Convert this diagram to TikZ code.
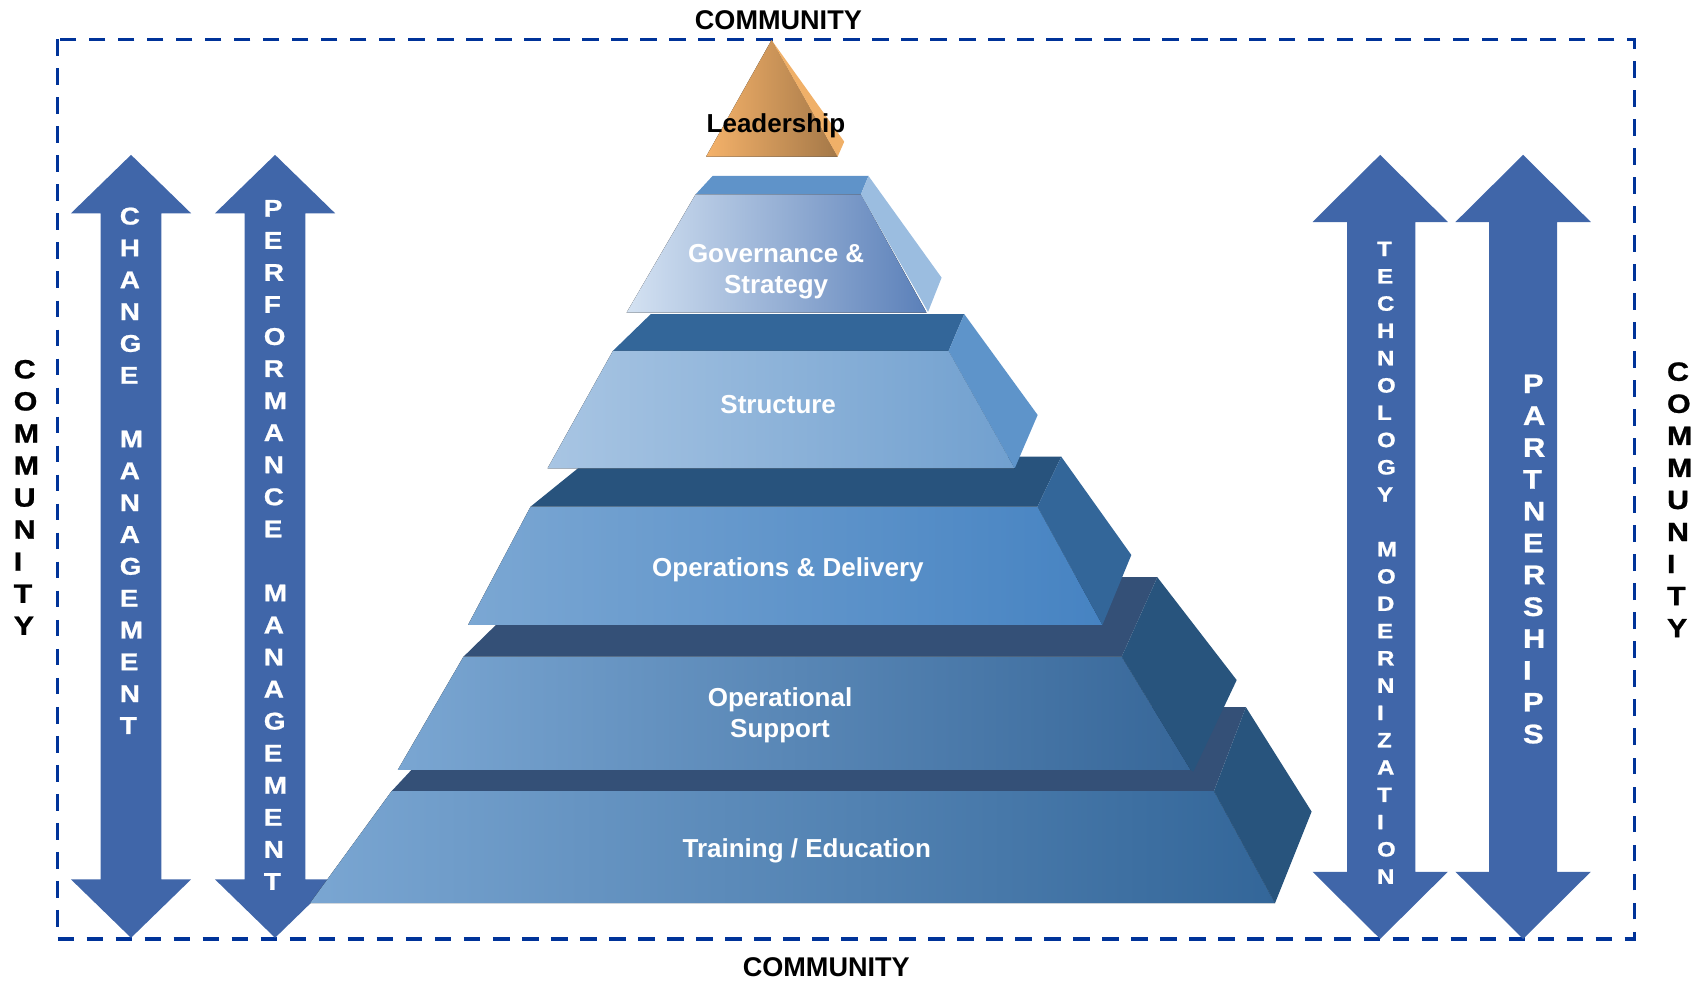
\documentclass[tikz,border=0pt]{standalone}
\usepackage{fontspec}
\setmainfont{Liberation Sans}
\newfontfamily\widefont{Liberation Sans}[FakeStretch=1.15,FakeBold=0.9]
\definecolor{arrowblue}{RGB}{64,102,169}
\definecolor{bordercol}{RGB}{0,51,153}
\definecolor{govtop}{RGB}{95,147,201}
\definecolor{govside}{RGB}{155,189,224}
\definecolor{govL}{RGB}{212,226,242}
\definecolor{govR}{RGB}{91,128,185}
\definecolor{strtop}{RGB}{51,102,153}
\definecolor{strside}{RGB}{94,148,202}
\definecolor{strL}{RGB}{168,197,227}
\definecolor{strR}{RGB}{113,160,207}
\definecolor{opstop}{RGB}{40,83,125}
\definecolor{opsside}{RGB}{51,102,153}
\definecolor{opsL}{RGB}{123,167,211}
\definecolor{opsR}{RGB}{70,131,194}
\definecolor{ostop}{RGB}{52,80,119}
\definecolor{osside}{RGB}{40,84,125}
\definecolor{osL}{RGB}{122,166,210}
\definecolor{osR}{RGB}{55,103,153}
\definecolor{trL}{RGB}{122,166,210}
\definecolor{trR}{RGB}{51,102,153}
\definecolor{leadL}{RGB}{245,178,106}
\definecolor{leadR}{RGB}{164,120,72}
\definecolor{leadside}{RGB}{240,176,104}
\begin{document}
\begin{tikzpicture}[x=0.5pt,y=-0.5pt,
  bigarrow/.style={fill=arrowblue},
  border/.style={draw=bordercol,line width=1.5pt,dash pattern=on 7.7pt off 5.7pt},
  comm/.style={font=\bfseries\fontsize{12.5}{15}\selectfont,text=black,inner sep=0pt,anchor=base},
  vstack/.style={align=left,anchor=west,inner sep=0pt,text=white},
  tierlab/.style={text=white,font=\bfseries\fontsize{12}{14.5}\selectfont,align=center,inner sep=0pt},
]
\useasboundingbox (0,0) rectangle (1568,905);

% dashed border
\draw[border] (53,36.3) rectangle (1509,867);

% double arrows
\fill[bigarrow] (121,143) -- (176.5,197) -- (149,197) -- (149,812) -- (176.5,812) -- (121,866) -- (65.5,812) -- (93,812) -- (93,197) -- (65.5,197) -- cycle;
\fill[bigarrow] (254,143) -- (309.5,197) -- (282,197) -- (282,812) -- (309.5,812) -- (254,866) -- (198.5,812) -- (226,812) -- (226,197) -- (198.5,197) -- cycle;
\fill[bigarrow] (1274.5,143) -- (1337,205) -- (1307,205) -- (1307,805) -- (1337,805) -- (1274.5,867) -- (1212,805) -- (1244,805) -- (1244,205) -- (1212,205) -- cycle;
\fill[bigarrow] (1406.5,143) -- (1469,205) -- (1438,205) -- (1438,805) -- (1469,805) -- (1406.5,867) -- (1344,805) -- (1375,805) -- (1375,205) -- (1344,205) -- cycle;

% Training / Education
\fill[ostop] (434,653) -- (1150.5,653) -- (1121,730.5) -- (361.7,730.5) -- cycle;
\fill[left color=trL,right color=trR] (361.7,730.5) -- (1121,730.5) -- (1177.4,834) -- (286.3,834) -- cycle;
\fill[osside] (1150.5,653) -- (1211.2,749.5) -- (1177.4,834) -- (1121,730.5) -- cycle;

% Operational Support
\fill[ostop] (503,533) -- (1068.7,533) -- (1035.8,606.4) -- (428,606.4) -- cycle;
\fill[left color=osL,right color=osR] (428,606.4) -- (1035.8,606.4) -- (1099.5,711) -- (367.3,711) -- cycle;
\fill[osside] (1068.7,533) -- (1142,628) -- (1102,712.6) -- (1099.5,711) -- (1035.8,606.4) -- cycle;

% Operations & Delivery
\fill[opstop] (547,421.7) -- (980,421.7) -- (958,467.8) -- (490,467.8) -- cycle;
\fill[left color=opsL,right color=opsR] (490,467.8) -- (958,467.8) -- (1018,577.1) -- (432.2,577.1) -- cycle;
\fill[opsside] (980,421.7) -- (1044.7,512.5) -- (1018,577.1) -- (958,467.8) -- cycle;

% Structure
\fill[strtop] (601,290) -- (890.4,290) -- (876,324) -- (566,324) -- cycle;
\fill[left color=strL,right color=strR] (566,324) -- (876,324) -- (937,432.5) -- (505.6,432.5) -- cycle;
\fill[strside] (890.4,290) -- (958.2,383.2) -- (937,432.5) -- (876,324) -- cycle;

% Governance & Strategy
\fill[govtop] (658,162.5) -- (802,162.5) -- (795,179.4) -- (642.4,179.4) -- cycle;
\fill[left color=govL,right color=govR] (642.4,179.4) -- (795,179.4) -- (855.6,288.7) -- (578.6,288.7) -- cycle;
\fill[govside] (802,162.5) -- (869.5,256.4) -- (857,288) -- (795,179.4) -- cycle;

% Leadership
\fill[left color=leadL,right color=leadR] (712.5,37) -- (773.5,144.7) -- (652,144.7) -- cycle;
\fill[leadside] (712.5,37) -- (779.6,130.8) -- (773.5,144.7) -- cycle;

% tier labels
\node[inner sep=0pt,anchor=base,font=\bfseries\fontsize{12}{14.5}\selectfont,text=black] (lead) at (716.6,122.2) {Leadership};
\node[tierlab] (gov) at (716.7,251) {Governance \&\\Strategy};
\node[tierlab,anchor=base] (str) at (718.6,381.7) {Structure};
\node[tierlab,anchor=base] (ops) at (727.6,532.5) {Operations \& Delivery};
\node[tierlab] (os) at (720.3,660.3) {Operational\\Support};
\node[tierlab,anchor=base] (tr) at (745,791.7) {Training / Education};

% community labels
\node[comm] (ctop) at (718.8,27.1) {COMMUNITY};
\node[comm] (cbot) at (763,902) {COMMUNITY};
\node[vstack,text=black,font=\widefont\bfseries\fontsize{12.2}{14.8}\selectfont] (cleft) at (12.3,459.3) {C\\O\\M\\M\\U\\N\\I\\T\\Y};
\node[vstack,text=black,font=\widefont\bfseries\fontsize{12.2}{14.8}\selectfont] (cright) at (1539,461.5) {C\\O\\M\\M\\U\\N\\I\\T\\Y};

% arrow labels
\node[vstack,font=\widefont\bfseries\fontsize{11.2}{14.7}\selectfont] (chg) at (110.2,434.7) {C\\H\\A\\N\\G\\E\\[14.7pt]M\\A\\N\\A\\G\\E\\M\\E\\N\\T};
\node[vstack,font=\widefont\bfseries\fontsize{11.2}{14.8}\selectfont] (perf) at (243.2,503.2) {P\\E\\R\\F\\O\\R\\M\\A\\N\\C\\E\\[14.8pt]M\\A\\N\\A\\G\\E\\M\\E\\N\\T};
\node[vstack,font=\widefont\bfseries\fontsize{9.6}{12.6}\selectfont] (tech) at (1271.3,519.7) {T\\E\\C\\H\\N\\O\\L\\O\\G\\Y\\[12.6pt]M\\O\\D\\E\\R\\N\\I\\Z\\A\\T\\I\\O\\N};
\node[vstack,font=\widefont\bfseries\fontsize{12.4}{14.7}\selectfont] (part) at (1406,516.3) {P\\A\\R\\T\\N\\E\\R\\S\\H\\I\\P\\S};
\end{tikzpicture}
\end{document}
